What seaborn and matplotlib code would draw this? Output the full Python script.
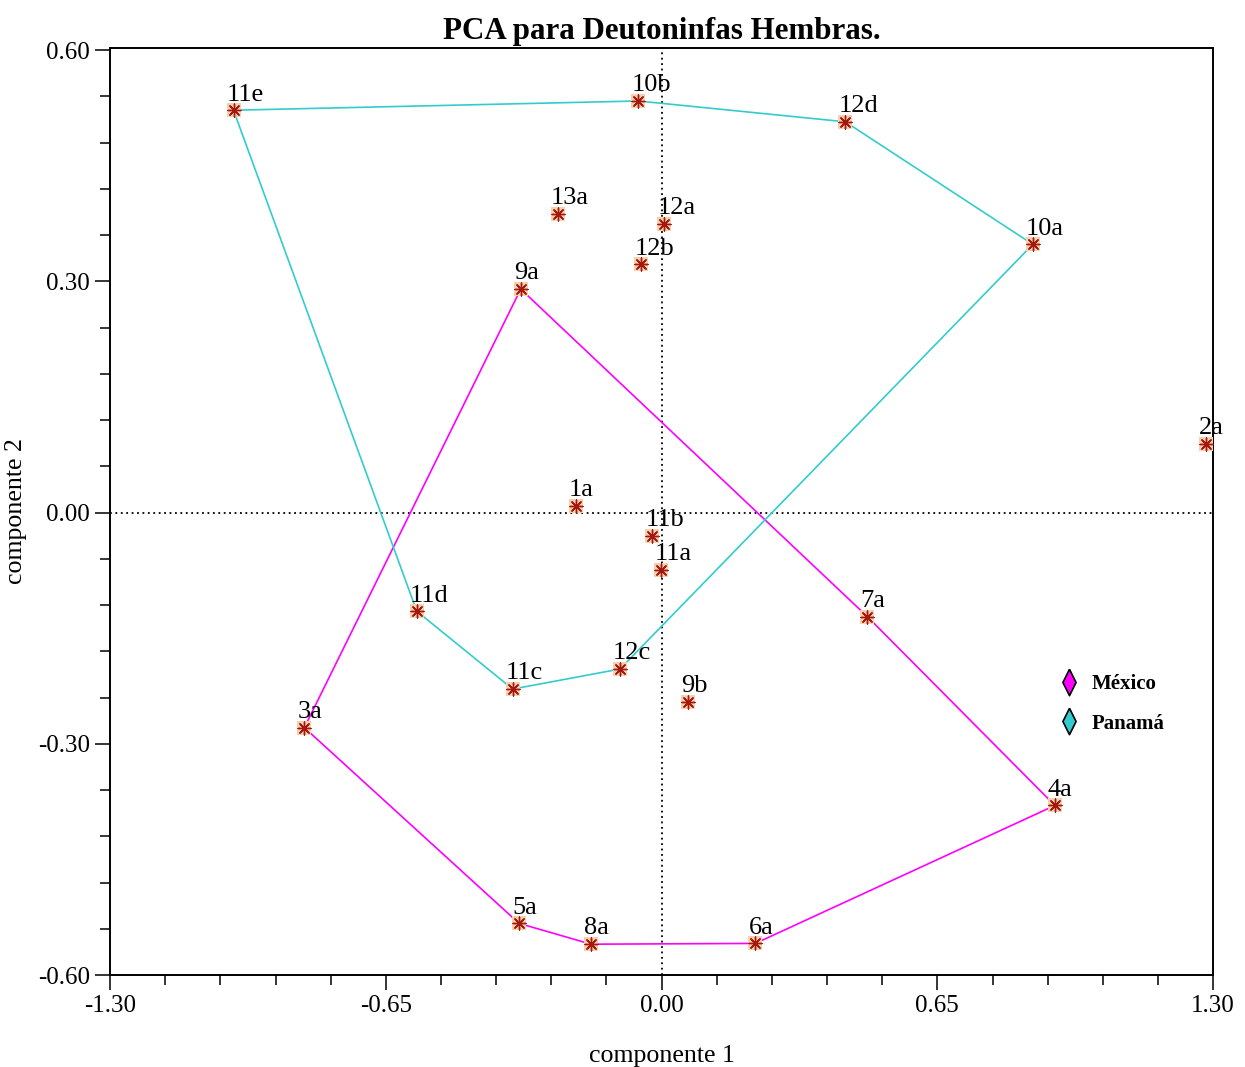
import matplotlib
matplotlib.use("Agg")
import matplotlib.pyplot as plt
from matplotlib.lines import Line2D
from matplotlib.ticker import MultipleLocator, FormatStrFormatter
import seaborn as sns
import pandas as pd

# datos
etiquetas = ["11e", "10b", "12d", "13a", "12a", "12b", "10a", "9a", "2a", "1a", "11b",
             "11a", "7a", "11d", "12c", "11c", "9b", "3a", "4a", "5a", "8a", "6a"]
comp1 = [-1.009, -0.055, 0.433, -0.244, 0.006, -0.048, 0.875, -0.332, 1.283, -0.202, -0.022,
         -0.001, 0.485, -0.577, -0.098, -0.351, 0.063, -0.842, 0.927, -0.336, -0.166, 0.221]
comp2 = [0.522, 0.534, 0.507, 0.388, 0.375, 0.322, 0.348, 0.290, 0.089, 0.009, -0.030,
         -0.074, -0.135, -0.128, -0.203, -0.229, -0.246, -0.279, -0.380, -0.533, -0.560, -0.559]

contorno_mexico = ["9a", "7a", "4a", "6a", "8a", "5a", "3a", "9a"]
contorno_panama = ["11e", "10b", "12d", "10a", "12c", "11c", "11d", "11e"]

grupos = ["México", "Panamá"]
colores = ["#ff00ff", "#33cccc"]

df = pd.DataFrame({"etiqueta": etiquetas, "c1": comp1, "c2": comp2}).set_index("etiqueta")

sns.set_style("white")
plt.rcParams["font.family"] = ["Liberation Serif", "DejaVu Serif"]
plt.rcParams["text.color"] = "black"
plt.rcParams["axes.labelcolor"] = "black"
plt.rcParams["xtick.color"] = "black"
plt.rcParams["ytick.color"] = "black"

fig = plt.figure(figsize=(12.45, 10.67), dpi=100)
ax = fig.add_axes([0.0884, 0.0862, 0.886, 0.869])

# ejes de referencia
ax.axhline(0, color="black", linestyle=(0, (1, 2)), linewidth=1.3, zorder=1)
ax.axvline(0, color="black", linestyle=(0, (1, 2)), linewidth=1.3, zorder=1)

# contornos de cada grupo
for orden, col in zip([contorno_mexico, contorno_panama], colores):
    sub = df.loc[orden].reset_index()
    sns.lineplot(data=sub, x="c1", y="c2", sort=False, estimator=None,
                 color=col, linewidth=1.2, ax=ax, zorder=2)

# puntos
sns.scatterplot(data=df, x="c1", y="c2", marker="s", s=105, color="#f9cfae",
                linewidth=0, ax=ax, zorder=3)
ax.scatter(df["c1"], df["c2"], marker=(8, 2, 0), s=85, color="#a3190f",
           linewidths=1.0, zorder=4)

for lab, row in df.iterrows():
    ax.annotate(lab, (row["c1"], row["c2"]), xytext=(-5, 7), textcoords="offset points",
                ha="left", va="baseline", fontsize=19, zorder=5)

ax.set_xlim(-1.30, 1.30)
ax.set_ylim(-0.60, 0.603)
ax.xaxis.set_major_locator(MultipleLocator(0.65))
ax.xaxis.set_minor_locator(MultipleLocator(0.13))
ax.yaxis.set_major_locator(MultipleLocator(0.30))
ax.yaxis.set_minor_locator(MultipleLocator(0.06))
ax.xaxis.set_major_formatter(FormatStrFormatter("%.2f"))
ax.yaxis.set_major_formatter(FormatStrFormatter("%.2f"))
ax.tick_params(which="major", direction="out", length=11, width=1.1, labelsize=18,
               bottom=True, left=True, top=False, right=False)
ax.tick_params(which="minor", direction="out", length=7, width=1.1,
               bottom=True, left=True, top=False, right=False)
for sp in ax.spines.values():
    sp.set_color("black")
    sp.set_linewidth(1.4)

ax.set_xlabel("componente 1", fontsize=18.6, labelpad=20)
ax.set_ylabel("componente 2", fontsize=18.6, labelpad=8)
ax.set_title("PCA para Deutoninfas Hembras.", fontsize=22.3, fontweight="bold", pad=6)

# leyenda
rombo = [(0, 1), (0.5, 0), (0, -1), (-0.5, 0), (0, 1)]
manejadores = [Line2D([], [], linestyle="none", marker=rombo, markersize=19,
                      markerfacecolor=c, markeredgecolor="black", markeredgewidth=1.2)
               for c in colores]
ax.legend(manejadores, grupos, loc="upper left", bbox_to_anchor=(0.843, 0.345),
          frameon=False, prop={"size": 15, "weight": "bold"}, handlelength=1.0,
          handletextpad=0.6, labelspacing=0.95)

fig.savefig("out.png", dpi=100)
